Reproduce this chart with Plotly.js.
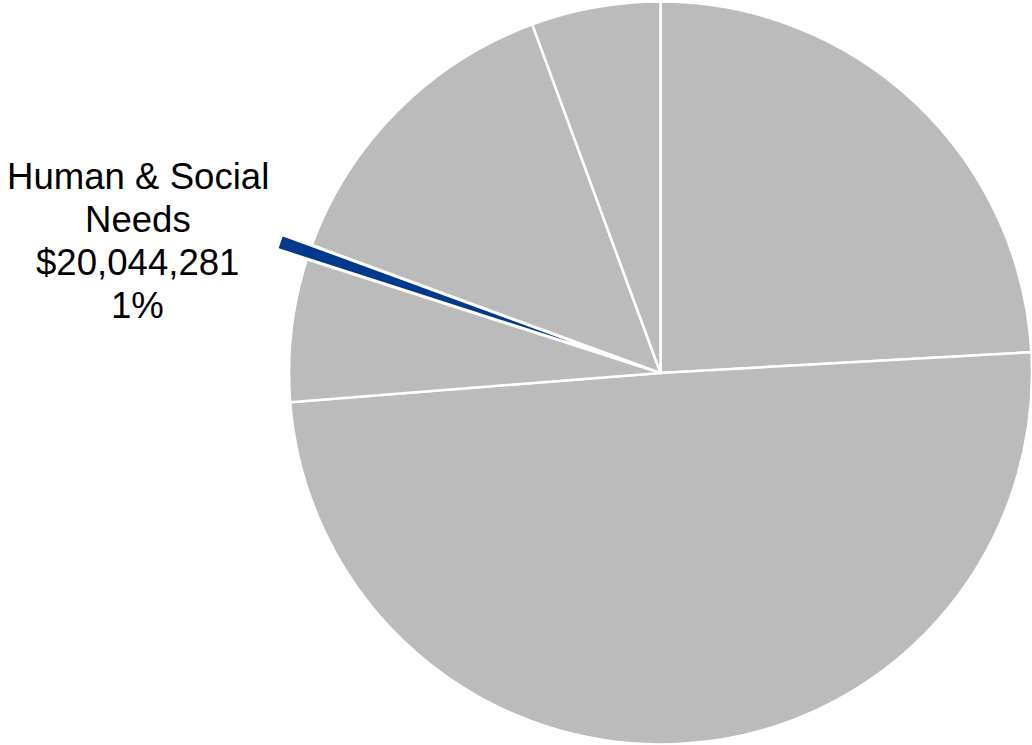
<!DOCTYPE html>
<html>
<head>
<meta charset="utf-8">
<script src="https://cdn.plot.ly/plotly-3.0.1.min.js"></script>
<style>
  html, body { margin:0; padding:0; width:1032px; height:745px; overflow:hidden; background:#fff; }
  #chart { position:absolute; left:0px; top:-30px; width:1100px; height:806px; }
</style>
</head>
<body>
<div id="chart"></div>
<script>
// Data (shares of total, in %, clockwise from 12 o'clock)
const categories = ["Category 1", "Category 2", "Category 3", "Human & Social Needs", "Category 5", "Category 6"];
const shares = [24.11, 49.64, 6.20, 0.65, 13.79, 5.61];
const highlightLabel = ["Human & Social", "Needs", "$20,044,281", "1%"];

const GRAY = "#BBBBBB";
const BLUE = "#013A8C";
const colors = categories.map(c => c === "Human & Social Needs" ? BLUE : GRAY);
const pulls = categories.map(c => c === "Human & Social Needs" ? 0.085 : 0);

const W = 1100, H = 806, TOP = -30;
const cx = 660.5, half = 403;

function py(winY) { return 1 - (winY - TOP) / H; }
function px(winX) { return winX / W; }

const lineCenters = [176, 220, 263, 306];
const annotations = highlightLabel.map((t, i) => ({
  text: t,
  xref: "paper", yref: "paper",
  x: px(137.5), y: py(lineCenters[i]),
  xanchor: "center", yanchor: "middle",
  showarrow: false,
  font: { family: "Liberation Sans, Arial, sans-serif", size: 36.6, color: "#000000" }
}));

const trace = {
  type: "pie",
  labels: categories,
  values: shares,
  sort: false,
  direction: "clockwise",
  rotation: 0,
  pull: pulls,
  marker: { colors: colors, line: { color: "#FFFFFF", width: 2.5 } },
  textinfo: "none",
  hoverinfo: "skip",
  domain: { x: [(cx - half) / W, (cx + half) / W], y: [0, 1] }
};

const layout = {
  width: W, height: H,
  margin: { l: 0, r: 0, t: 0, b: 0 },
  paper_bgcolor: "#FFFFFF",
  showlegend: false,
  annotations: annotations
};

Plotly.newPlot("chart", [trace], layout, { displayModeBar: false, staticPlot: true });
</script>
</body>
</html>
